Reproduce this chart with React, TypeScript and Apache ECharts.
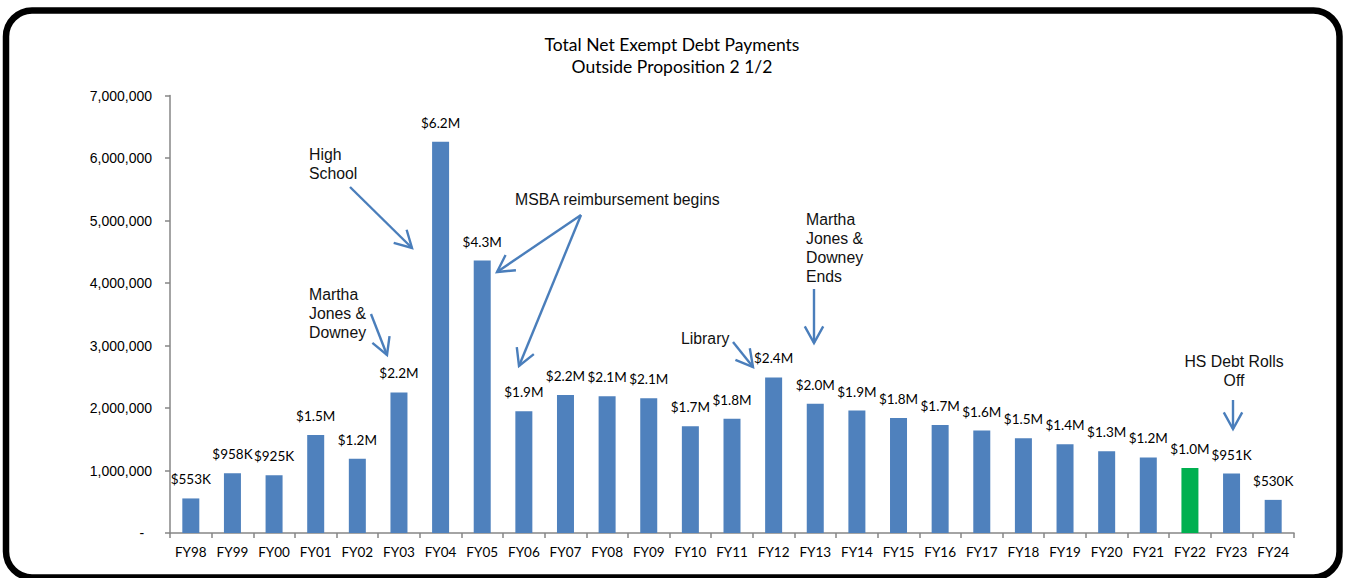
import React, { useEffect, useRef } from "react";
import * as echarts from "echarts";

const CATEGORIES = [
  "FY98", "FY99", "FY00", "FY01", "FY02", "FY03", "FY04", "FY05", "FY06",
  "FY07", "FY08", "FY09", "FY10", "FY11", "FY12", "FY13", "FY14", "FY15",
  "FY16", "FY17", "FY18", "FY19", "FY20", "FY21", "FY22", "FY23", "FY24",
];

const PAYMENTS = [
  553000, 958000, 925000, 1568000, 1190000, 2250000, 6260000, 4360000, 1950000,
  2210000, 2190000, 2155000, 1710000, 1830000, 2490000, 2070000, 1960000, 1840000,
  1730000, 1640000, 1515000, 1420000, 1310000, 1210000, 1040000, 951000, 530000,
];

const VALUE_LABELS = [
  "$553K", "$958K", "$925K", "$1.5M", "$1.2M", "$2.2M", "$6.2M", "$4.3M", "$1.9M",
  "$2.2M", "$2.1M", "$2.1M", "$1.7M", "$1.8M", "$2.4M", "$2.0M", "$1.9M", "$1.8M",
  "$1.7M", "$1.6M", "$1.5M", "$1.4M", "$1.3M", "$1.2M", "$1.0M", "$951K", "$530K",
];

const HIGHLIGHT = "FY22";
const TITLE = "Total Net Exempt Debt Payments\nOutside Proposition 2 1/2";

const BLUE = "#4F81BD";
const GREEN = "#00B050";
const ARROW = "#4A7EBB";
const ANN_FONT = '"Liberation Sans", Arial, sans-serif';

function arrow(x1: number, y1: number, x2: number, y2: number) {
  const dx = x2 - x1;
  const dy = y2 - y1;
  const len = Math.sqrt(dx * dx + dy * dy);
  const ux = dx / len;
  const uy = dy / len;
  const L = 19;
  const a = (29 * Math.PI) / 180;
  const rot = (ang: number) => {
    const bx = -ux;
    const by = -uy;
    return [
      x2 + L * (bx * Math.cos(ang) - by * Math.sin(ang)),
      y2 + L * (bx * Math.sin(ang) + by * Math.cos(ang)),
    ];
  };
  return [
    {
      type: "line",
      shape: { x1, y1, x2, y2 },
      style: { stroke: ARROW, lineWidth: 2.4 },
      z: 100,
    },
    {
      type: "polyline",
      shape: { points: [rot(a), [x2, y2], rot(-a)] },
      style: { stroke: ARROW, lineWidth: 2.4, fill: null },
      z: 100,
    },
  ];
}

function note(text: string, x: number, y: number, align: string = "left") {
  return {
    type: "text",
    x,
    y,
    z: 100,
    style: {
      text,
      fill: "#111",
      fontSize: 15.8,
      fontFamily: ANN_FONT,
      lineHeight: 19,
      align,
      verticalAlign: "top",
    },
  };
}

export default function App() {
  const ref = useRef<HTMLDivElement>(null);

  useEffect(() => {
    if (!ref.current) return;
    const chart = echarts.init(ref.current, null, { renderer: "svg" });

    const data = PAYMENTS.map((v, i) => ({
      value: v,
      itemStyle: { color: CATEGORIES[i] === HIGHLIGHT ? GREEN : BLUE },
    }));

    const graphics: any[] = [
      {
        type: "rect",
        shape: { x: 6, y: 10.5, width: 1333.5, height: 567, r: 26 },
        style: { stroke: "#000", lineWidth: 6.5, fill: null },
        z: 200,
      },
      note("High\nSchool", 309, 145),
      note("Martha\nJones &\nDowney", 309, 285),
      note("MSBA reimbursement begins", 515, 190),
      note("Library", 681, 329),
      note("Martha\nJones &\nDowney\nEnds", 806, 209.5),
      note("HS Debt Rolls\nOff", 1234, 352, "center"),
      ...arrow(350, 187, 412, 248),
      ...arrow(371, 314, 387, 355),
      ...arrow(581, 215, 497, 272),
      ...arrow(581, 215, 519, 366),
      ...arrow(733, 342, 753, 367),
      ...arrow(814, 289, 814, 343),
      ...arrow(1233, 400, 1233, 429),
    ];

    chart.setOption({
      animation: false,
      backgroundColor: "#fff",
      title: {
        text: TITLE,
        left: 672,
        top: 33,
        padding: 0,
        textAlign: "center",
        textStyle: {
          fontFamily: "Lato, sans-serif",
          fontSize: 17.5,
          fontWeight: "normal",
          color: "#000",
          lineHeight: 22.5,
        },
      },
      grid: { left: 170, right: 52, top: 95.5, bottom: 45, containLabel: false },
      xAxis: {
        type: "category",
        data: CATEGORIES,
        axisLine: { show: true, lineStyle: { color: "#868686", width: 1.5 } },
        axisTick: { show: true, alignWithLabel: false, length: 5, lineStyle: { color: "#868686", width: 1.5 } },
        axisLabel: {
          color: "#000",
          fontFamily: "Lato, sans-serif",
          fontSize: 13.5,
          margin: 12,
          interval: 0,
        },
      },
      yAxis: {
        type: "value",
        min: 0,
        max: 7000000,
        interval: 1000000,
        splitLine: { show: false },
        axisLine: { show: true, lineStyle: { color: "#868686", width: 1.5 } },
        axisTick: { show: true, length: 5, lineStyle: { color: "#868686", width: 1.5 } },
        axisLabel: {
          color: "#000",
          fontFamily: ANN_FONT,
          fontSize: 14,
          margin: 18,
          formatter: (v: number) =>
            v === 0 ? "-\u00a0\u00a0" : v.toLocaleString("en-US"),
        },
      },
      series: [
        {
          type: "bar",
          data,
          barWidth: 17,
          label: {
            show: true,
            position: "top",
            distance: 12,
            color: "#000",
            fontFamily: "Lato, sans-serif",
            fontSize: 13.5,
            formatter: (p: any) => VALUE_LABELS[p.dataIndex],
          },
        },
      ],
      graphic: graphics,
    });

    return () => chart.dispose();
  }, []);

  return (
    <div
      ref={ref}
      style={{ position: "fixed", left: 0, top: 0, width: 1346, height: 578 }}
    />
  );
}
